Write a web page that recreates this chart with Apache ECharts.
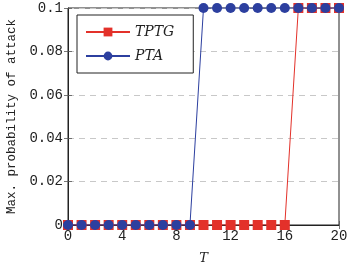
<!DOCTYPE html>
<html>
<head>
<meta charset="utf-8">
<script src="https://cdn.jsdelivr.net/npm/echarts@6/dist/echarts.min.js"></script>
<style>
  html, body { margin: 0; padding: 0; background: #fff; }
  #chart { width: 348px; height: 266px; }
</style>
</head>
<body>
<div id="chart"></div>
<script>
// horizon T
var T = [0, 1, 2, 3, 4, 5, 6, 7, 8, 9, 10, 11, 12, 13, 14, 15, 16, 17, 18, 19, 20];
// max. probability of attack
var tptg = [0, 0, 0, 0, 0, 0, 0, 0, 0, 0, 0, 0, 0, 0, 0, 0, 0, 0.1, 0.1, 0.1, 0.1];
var pta = [0, 0, 0, 0, 0, 0, 0, 0, 0, 0, 0.1, 0.1, 0.1, 0.1, 0.1, 0.1, 0.1, 0.1, 0.1, 0.1, 0.1];

var RED = "#e3312a";
var BLUE = "#2c3f9f";
var FONT = "DejaVu Serif";
var MONO = "Liberation Mono";

function pairs(xs, ys) {
  return xs.map(function (x, i) { return [x, ys[i]]; });
}

var tickStyle = { show: true, inside: true, length: 4, lineStyle: { color: "#555", width: 0.8 } };

var options = {
  animation: false,
  grid: {
    left: 68, right: 9, top: 8, bottom: 41,
    containLabel: false, outerBoundsMode: "none",
    show: true, borderColor: "#222", borderWidth: 1
  },
  legend: {
    orient: "vertical",
    left: 77,
    top: 15,
    padding: [10, 19, 10, 8],
    itemGap: 10,
    itemWidth: 44,
    itemHeight: 11,
    borderColor: "#222",
    borderWidth: 1,
    backgroundColor: "#fff",
    textStyle: { fontFamily: FONT, fontStyle: "italic", fontSize: 14, color: "#222" },
    data: ["TPTG", "PTA"]
  },
  xAxis: [
    {
      type: "value", min: 0, max: 20, interval: 4,
      axisLine: { show: true, lineStyle: { color: "#222", width: 1 } },
      axisTick: tickStyle,
      splitLine: { show: false },
      axisLabel: { fontFamily: MONO, fontSize: 14, color: "#222", margin: 4 },
      name: "T", nameLocation: "middle", nameGap: 27,
      nameTextStyle: { fontFamily: FONT, fontStyle: "italic", fontSize: 13, color: "#222" }
    },
    {
      type: "value", min: 0, max: 20, interval: 4, position: "top",
      axisLine: { show: false }, axisTick: tickStyle,
      axisLabel: { show: false }, splitLine: { show: false }
    }
  ],
  yAxis: [
    {
      type: "value", min: 0, max: 0.1, interval: 0.02,
      axisLine: { show: true, lineStyle: { color: "#222", width: 1 } },
      axisTick: tickStyle,
      splitLine: { show: true, lineStyle: { color: "#c8c8c8", type: [6, 5], width: 1 } },
      axisLabel: { fontFamily: MONO, fontSize: 14, color: "#222", margin: 5 },
      name: "Max. probability of attack", nameLocation: "middle", nameGap: 50,
      nameTextStyle: { fontFamily: MONO, fontSize: 12.5, color: "#222" }
    },
    {
      type: "value", min: 0, max: 0.1, interval: 0.02, position: "right",
      axisLine: { show: false }, axisTick: tickStyle,
      axisLabel: { show: false }, splitLine: { show: false }
    }
  ],
  series: [
    {
      name: "TPTG", type: "line", data: pairs(T, tptg),
      symbol: "rect", symbolSize: 10,
      lineStyle: { color: RED, width: 1 },
      itemStyle: { color: RED }
    },
    {
      name: "PTA", type: "line", data: pairs(T, pta),
      symbol: "circle", symbolSize: 10,
      lineStyle: { color: BLUE, width: 1 },
      itemStyle: { color: BLUE }
    }
  ]
};

var myEchart = echarts.init(document.getElementById("chart"));
myEchart.setOption(options);
</script>
</body>
</html>
